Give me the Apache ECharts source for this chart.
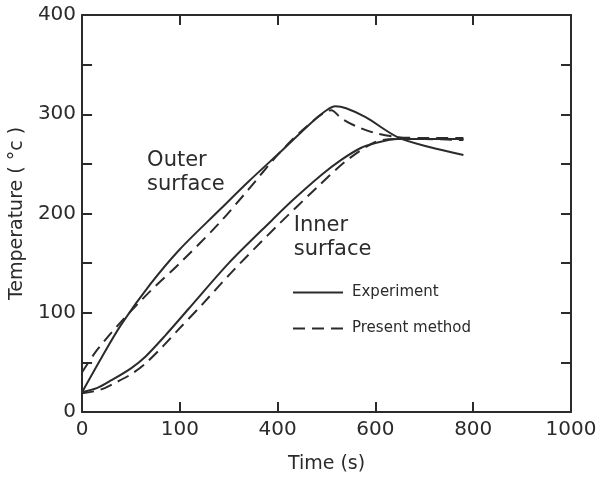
<!DOCTYPE html>
<html>
<head>
<meta charset="utf-8">
<script src="https://cdn.jsdelivr.net/npm/echarts@6/dist/echarts.min.js"></script>
<style>html,body{margin:0;padding:0;background:#fff;}#c{width:603px;height:479px;}</style>
</head>
<body>
<div id="c"></div>
<script>
// ---- data ----
var outerExpT = [0, 40, 80, 140, 200, 280, 340, 410, 470, 500, 518, 540, 580, 645, 710, 780];
var outerExpV = [20, 55, 88, 129, 164, 203, 232, 264, 292, 304, 308, 306, 297, 277, 267, 259];
var outerModT = [0, 30, 80, 140, 200, 280, 340, 400, 460, 510, 530, 560, 600, 645, 700, 780];
var outerModV = [40, 62, 91, 122, 150, 190, 224, 259, 288, 304, 296, 288, 281, 277, 276, 276];
var innerExpT = [0, 30, 60, 100, 130, 170, 218, 300, 390, 430, 490, 530, 570, 600, 645, 700, 780];
var innerExpV = [20, 24, 32, 44, 56, 77, 104, 150, 194, 213, 239, 254, 266, 271, 275, 275, 275];
var innerModT = [0, 35, 70, 100, 130, 165, 195, 245, 310, 400, 480, 540, 600, 645, 700, 780];
var innerModV = [19, 22, 30, 38, 49, 66, 82, 108, 143, 188, 226, 253, 272, 275, 275, 274];
var xTickLabels = ['0', '100', '400', '600', '800', '1000'];
var yTickLabels = ['0', '100', '200', '300', '400'];
var legendNames = ['Experiment', 'Present method'];

function pairs(t, v) { return t.map(function (x, i) { return [x, v[i]]; }); }

var ink = '#2b2b2b';
var font = 'DejaVu Sans';
var chart = echarts.init(document.getElementById('c'), null, { renderer: 'canvas' });

var axisCommon = {
  axisLine: { show: true, onZero: false, lineStyle: { color: ink, width: 2 } },
  axisTick: { show: true, inside: true, length: 10, lineStyle: { color: ink, width: 2 } },
  splitLine: { show: false }
};

function lineSeries(name, t, v, dashed) {
  return {
    type: 'line', name: name, data: pairs(t, v), smooth: 0.3,
    symbol: 'none', showSymbol: false,
    xAxisIndex: 0, yAxisIndex: 0,
    lineStyle: { color: ink, width: 2, type: dashed ? [12, 7] : 'solid' },
    itemStyle: { color: ink },
    animation: false
  };
}

chart.setOption({
  animation: false,
  grid: { left: 81, top: 15, right: 32, bottom: 64 },
  xAxis: [
    Object.assign({}, axisCommon, {
      type: 'value', min: 0, max: 1000, interval: 200, position: 'bottom',
      name: 'Time (s)', nameLocation: 'middle', nameGap: 43,
      nameTextStyle: { color: ink, fontFamily: font, fontSize: 19 },
      axisLabel: { color: ink, fontFamily: font, fontSize: 20, margin: 8,
        formatter: function (v) { return xTickLabels[Math.round(v / 200)]; } }
    }),
    Object.assign({}, axisCommon, {
      type: 'value', min: 0, max: 1000, interval: 200, position: 'top',
      axisLabel: { show: false }
    })
  ],
  yAxis: [
    Object.assign({}, axisCommon, {
      type: 'value', min: 0, max: 400, interval: 50, position: 'left',
      name: 'Temperature ( \u00b0c )', nameLocation: 'middle', nameGap: 43, nameRotate: 90,
      nameTextStyle: { color: ink, fontFamily: font, fontSize: 19 },
      axisLabel: { color: ink, fontFamily: font, fontSize: 20, margin: 6,
        formatter: function (v) { return v % 100 === 0 ? yTickLabels[v / 100] : ''; } }
    }),
    Object.assign({}, axisCommon, {
      type: 'value', min: 0, max: 400, interval: 50, position: 'right',
      axisLabel: { show: false }
    })
  ],
  legend: {
    show: true, orient: 'vertical', left: 287, top: 280, itemWidth: 50, itemHeight: 14, itemGap: 21,
    itemStyle: { opacity: 0 },
    textStyle: { color: ink, fontFamily: font, fontSize: 15, padding: [0, 0, 0, 4] },
    data: legendNames
  },
  series: [
    lineSeries(legendNames[0], outerExpT, outerExpV, false),
    lineSeries(legendNames[1], outerModT, outerModV, true),
    lineSeries(legendNames[0], innerExpT, innerExpV, false),
    lineSeries(legendNames[1], innerModT, innerModV, true)
  ]
});

// annotation labels placed through the grid's scales
var notes = [
  { text: 'Outer\nsurface', at: [133, 265] },
  { text: 'Inner\nsurface', at: [433, 200] }
];
chart.setOption({
  graphic: notes.map(function (n) {
    var p = chart.convertToPixel({ gridIndex: 0 }, n.at);
    return { type: 'text', x: p[0], y: p[1],
      style: { text: n.text, fill: ink, font: '21px "' + font + '"', lineHeight: 24 } };
  })
});
</script>
</body>
</html>
